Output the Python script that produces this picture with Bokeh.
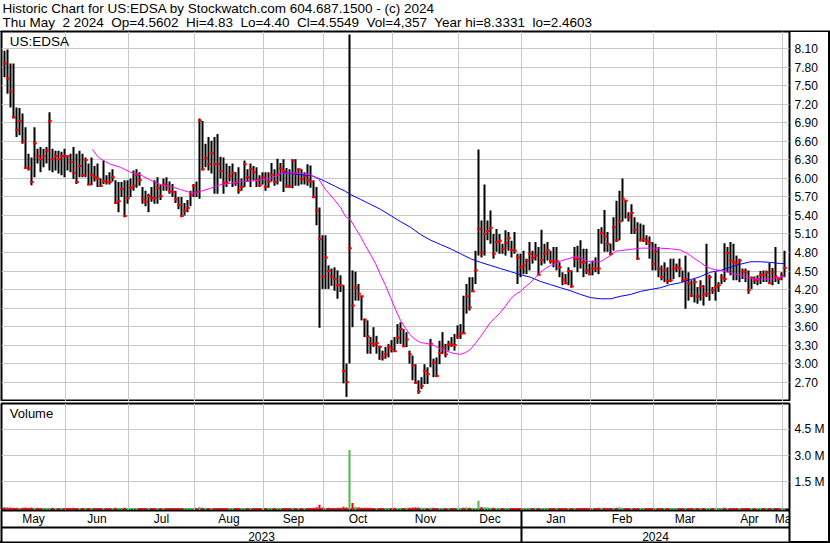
from bokeh.plotting import figure
from bokeh.layouts import column
from bokeh.models import Range1d, FixedTicker, Span, PrintfTickFormatter, Label
from bokeh.embed import file_html
from bokeh.resources import INLINE
from bokeh.core.properties import value

# ---------------- text ----------------
header_line1 = "Historic Chart for US:EDSA by Stockwatch.com 604.687.1500 - (c) 2024"
header_line2 = ("Thu May\u00a0 2 2024\u00a0 Op=4.5602\u00a0 Hi=4.83\u00a0 Lo=4.40\u00a0 "
                "Cl=4.5549\u00a0 Vol=4,357\u00a0 Year hi=8.3331\u00a0 lo=2.4603")
symbol_label = "US:EDSA"
volume_label = "Volume"
month_names = ["May", "Jun", "Jul", "Aug", "Sep", "Oct", "Nov", "Dec",
               "Jan", "Feb", "Mar", "Apr", "May"]
year_names = ["2023", "2024"]
price_ticks = [2.70, 3.00, 3.30, 3.60, 3.90, 4.20, 4.50, 4.80, 5.10, 5.40,
               5.70, 6.00, 6.30, 6.60, 6.90, 7.20, 7.50, 7.80, 8.10]
volume_ticks = [1.5, 3.0, 4.5]          # millions

# ---------------- daily bars: (high, low, close), one list per month ----------------
may23 = [(8.07,7.64,7.86),(8.09,7.37,7.62),(7.86,7.15,7.41),(7.86,6.97,6.99),(7.15,6.67,6.79),
         (7.14,6.70,6.93),(7.05,6.56,6.60),(6.83,6.16,6.17),(6.40,6.13,6.16),(6.34,5.89,5.94),
         (6.83,6.02,6.57),(6.48,6.24,6.36),(6.51,6.10,6.31),(6.48,6.18,6.36),(6.51,6.24,6.45),
         (7.07,6.13,6.93),(6.48,6.10,6.31),(6.45,6.13,6.36),(6.45,6.08,6.31),(6.43,6.05,6.36),
         (6.48,6.02,6.36)]
jun23 = [(6.37,6.13,6.36),(6.40,6.10,6.26),(6.51,5.99,6.09),(6.40,5.91,5.94),(6.45,6.02,6.20),
         (6.40,6.02,6.05),(6.34,6.02,6.30),(6.24,5.89,5.90),(6.34,5.89,6.06),(6.20,5.95,6.02),
         (6.24,5.86,6.00),(6.00,5.86,5.88),(6.29,5.91,5.96),(6.05,5.90,5.94),(6.10,5.90,5.94),
         (6.15,5.95,6.02),(5.97,5.59,5.60),(5.94,5.45,5.63),(5.94,5.70,5.83),(5.97,5.37,5.39),
         (5.97,5.59,5.68)]
jul23 = [(6.00,5.70,5.85),(6.13,5.80,5.88),(6.15,5.85,6.05),(6.10,5.88,5.97),(5.86,5.59,5.66),
         (5.80,5.55,5.62),(5.75,5.45,5.71),(5.86,5.62,5.68),(5.97,5.59,5.68),(6.02,5.59,5.84),
         (5.90,5.65,5.71),(6.00,5.80,5.90),(6.02,5.80,5.88),(5.95,5.75,5.79),(5.91,5.70,5.78),
         (5.80,5.60,5.66),(5.70,5.50,5.57),(5.70,5.37,5.39),(5.60,5.40,5.48),(5.65,5.45,5.52),
         (5.80,5.55,5.73),(5.91,5.70,5.88)]
aug23 = [(5.95,5.70,5.78),(6.97,5.67,6.94),(6.93,6.13,6.15),(6.56,6.18,6.33),(6.67,6.13,6.23),
         (6.61,6.08,6.41),(6.67,5.75,6.23),(6.72,5.75,6.23),(6.35,6.00,6.12),(6.34,5.75,5.93),
         (6.24,5.86,5.93),(6.20,5.95,6.04),(6.24,5.86,6.09),(6.10,5.88,5.93),(6.18,5.75,5.81),
         (6.00,5.80,5.86),(6.29,5.86,6.23),(6.15,5.95,6.02),(6.24,5.86,6.15),(6.20,5.97,6.10),
         (6.18,5.86,5.97),(6.05,5.86,5.89),(6.10,5.90,6.02)]
sep23 = [(6.10,5.80,5.86),(6.10,5.85,5.95),(6.25,5.95,6.06),(6.15,5.88,5.94),(6.32,5.90,6.06),
         (6.25,5.95,6.16),(6.31,5.78,6.12),(6.17,5.85,5.87),(6.15,5.85,5.87),(6.31,5.84,6.29),
         (6.31,5.88,6.08),(6.16,5.88,6.15),(6.15,5.90,5.99),(6.10,5.90,6.04),(6.23,5.88,5.97),
         (6.21,5.85,5.95),(5.97,5.68,5.70),(5.86,5.24,5.48),(5.53,3.58,5.02),(5.08,4.21,4.41)]
oct23 = [(5.08,4.21,4.72),(4.59,4.21,4.50),(4.54,4.26,4.41),(4.56,4.18,4.37),(4.51,4.05,4.27),
         (4.43,4.16,4.27),(4.27,2.68,2.88),(3.00,2.46,2.70),(8.33,3.00,4.87),(4.51,3.59,3.94),
         (4.49,4.02,4.23),(4.29,4.02,4.13),(4.10,3.70,4.09),(3.73,3.43,3.71),(3.70,3.16,3.44),
         (3.43,3.16,3.33),(3.59,3.27,3.31),(3.45,3.16,3.33),(3.29,3.06,3.27),(3.21,3.05,3.10),
         (3.27,3.08,3.15),(3.32,3.10,3.27),(3.38,3.18,3.24)]
nov23 = [(3.43,3.19,3.20),(3.64,3.32,3.42),(3.67,3.32,3.56),(3.56,3.27,3.28),(3.51,3.27,3.39),
         (3.21,3.00,3.15),(3.13,2.73,2.97),(2.99,2.67,2.69),(2.73,2.51,2.55),(2.78,2.59,2.64),
         (2.99,2.67,2.88),(2.94,2.67,2.83),(3.40,2.94,3.32),(3.08,2.78,3.02),(3.10,2.78,2.80),
         (3.37,2.99,3.17),(3.51,3.16,3.26),(3.32,3.10,3.15),(3.37,3.21,3.31),(3.43,3.27,3.31),
         (3.48,3.21,3.30),(3.62,3.40,3.44)]
dec23 = [(3.64,3.40,3.49),(4.10,3.48,3.49),(4.29,3.81,4.09),(4.40,3.86,3.91),(4.40,4.16,4.17),
         (4.83,4.29,4.51),(6.47,4.75,5.18),(5.32,4.72,4.80),(5.90,4.75,5.10),(5.32,5.00,5.15),
         (5.48,4.94,5.20),(5.10,4.70,4.78),(5.18,4.81,4.97),(5.10,4.78,4.99),(4.94,4.78,4.86),
         (5.16,4.75,4.95),(5.13,4.83,5.03),(4.99,4.72,4.84),(5.13,4.78,4.83),(4.78,4.29,4.72),
         (4.78,4.40,4.56)]
jan24 = [(4.83,4.45,4.59),(4.70,4.45,4.67),(4.97,4.51,4.78),(4.83,4.62,4.71),(4.97,4.67,4.75),
         (4.89,4.43,4.44),(5.17,4.59,4.68),(4.94,4.62,4.78),(4.97,4.67,4.84),(4.83,4.62,4.66),
         (4.89,4.56,4.65),(4.89,4.51,4.66),(4.64,4.40,4.56),(4.48,4.27,4.36),(4.45,4.29,4.30),
         (4.56,4.27,4.50),(4.51,4.23,4.25),(4.89,4.56,4.70),(4.91,4.48,4.70),(5.00,4.54,4.64),
         (4.86,4.40,4.64),(4.86,4.45,4.51),(4.62,4.43,4.45)]
feb24 = [(4.67,4.43,4.54),(4.72,4.48,4.54),(5.18,4.45,4.54),(5.21,4.94,5.11),(5.49,4.81,5.06),
         (5.13,4.81,4.94),(4.94,4.75,4.78),(5.37,4.83,5.21),(5.64,4.97,5.00),(5.80,5.00,5.30),
         (6.00,5.30,5.67),(5.64,5.35,5.64),(5.45,5.30,5.37),(5.58,5.10,5.44),(5.37,5.10,5.17),
         (5.29,4.68,4.70),(5.27,4.98,5.00),(5.25,4.97,5.01),(5.08,4.92,4.99),(5.06,4.70,4.95),
         (4.97,4.51,4.62)]
mar24 = [(4.94,4.51,4.81),(4.89,4.40,4.54),(4.59,4.35,4.40),(4.64,4.32,4.51),(4.56,4.29,4.34),
         (4.70,4.32,4.35),(4.70,4.37,4.54),(4.62,4.48,4.56),(4.70,4.40,4.54),(4.51,4.32,4.35),
         (4.75,3.89,4.37),(4.48,4.02,4.30),(4.35,4.08,4.10),(4.37,3.99,4.32),(4.24,3.97,4.09),
         (4.35,4.02,4.25),(4.27,3.94,4.12),(4.94,4.08,4.13),(4.44,4.02,4.40),(4.24,4.13,4.19),
         (4.48,4.02,4.24)]
apr24 = [(4.32,4.16,4.27),(4.45,4.29,4.39),(4.95,4.32,4.37),(4.89,4.48,4.79),(4.97,4.43,4.67),
         (4.94,4.35,4.64),(4.75,4.35,4.62),(4.70,4.32,4.67),(4.54,4.37,4.49),(4.54,4.32,4.48),
         (4.51,4.13,4.19),(4.41,4.21,4.39),(4.41,4.29,4.35),(4.43,4.27,4.36),(4.50,4.29,4.44),
         (4.51,4.32,4.43),(4.51,4.32,4.48),(4.63,4.29,4.30),(4.55,4.27,4.48),(4.89,4.32,4.41),
         (4.40,4.29,4.37),(4.48,4.35,4.42)]
may24 = [(4.83,4.40,4.55)]

# ---------------- daily volume, thousands of shares ----------------
vol_may23 = [60,45,50,38,42,35,40,55,30,48,35,30,28,33,25,40,30,28,26,30,25]
vol_jun23 = [28,25,30,22,26,24,30,22,25,20,24,22,26,20,18,22,30,28,22,35,25]
vol_jul23 = [24,20,22,18,26,22,20,24,18,22,20,24,18,22,20,24,22,28,20,24,22,20]
vol_aug23 = [22,80,40,30,26,28,24,26,22,20,24,22,20,24,22,26,22,20,24,22,20,22,24]
vol_sep23 = [22,20,24,22,26,24,22,20,24,22,26,22,20,24,22,26,40,60,200,45]
vol_oct23 = [40,30,28,25,30,40,90,50,3320,310,90,60,40,35,30,30,25,28,26,24,22,24,26]
vol_nov23 = [30,28,26,25,30,35,50,60,45,35,30,28,40,30,28,26,24,22,26,24,22,26]
vol_dec23 = [30,40,60,35,30,28,430,80,70,60,40,30,28,26,24,22,24,22,20,24,22]
vol_jan24 = [22,20,24,22,26,24,22,20,24,22,20,18,22,20,24,22,20,18,24,22,20,22,24]
vol_feb24 = [22,20,40,35,30,26,28,30,40,70,30,26,24,22,20,24,22,20,22,24,20]
vol_mar24 = [22,20,24,22,20,24,22,20,18,22,28,24,22,20,24,22,20,22,30,24,22]
vol_apr24 = [20,22,30,26,24,22,20,24,22,20,22,24,20,22,20,24,22,20,22,24,20,22]
vol_may24 = [4]

# ---------------- moving averages (bar number, price) ----------------
ma_short_bar = [29.3,31.0,32.0,33.7,35.3,38.7,42.0,45.3,48.7,52.0,55.3,58.7,62.0,63.7,65.3,68.7,
                72.0,75.3,78.7,82.0,85.3,88.7,92.0,95.3,98.7,102.0,104.7,107.0,109.7,112.0,113.7,
                115.3,117.0,118.7,120.3,122.0,123.7,125.3,127.0,128.7,130.3,132.0,133.7,135.3,
                137.0,138.7,140.3,142.0,143.7,145.3,147.0,148.7,150.3,152.0,153.7,155.3,157.0,
                158.7,160.3,162.0,163.7,165.3,167.0,168.7,170.3,172.0,173.7,175.3,177.0,178.7,
                180.3,182.0,183.7,185.3,188.7,190.3,192.0,193.7,195.3,198.7,200.3,202.0,203.7,
                205.3,208.7,212.0,215.3,218.7,222.0,225.3,227.0,228.7,230.3,232.0,233.7,235.3,
                237.0,238.7,242.0,245.3,248.7,252.0,255.3,258.7,260.3]
ma_short_val = [6.47,6.36,6.32,6.27,6.23,6.18,6.10,6.06,5.97,5.90,5.87,5.82,5.77,5.76,5.79,5.84,
                5.90,5.92,5.95,5.95,5.98,6.00,6.08,6.09,6.08,6.06,5.99,5.82,5.67,5.53,5.38,
                5.33,5.19,5.06,4.91,4.77,4.62,4.44,4.27,4.07,3.88,3.70,3.57,3.46,
                3.39,3.34,3.33,3.31,3.28,3.24,3.21,3.18,3.16,3.15,3.18,3.23,3.33,
                3.44,3.55,3.67,3.75,3.83,3.93,4.05,4.12,4.17,4.25,4.31,4.40,4.48,
                4.54,4.59,4.62,4.66,4.71,4.73,4.71,4.67,4.65,4.65,4.70,4.75,4.82,
                4.83,4.85,4.87,4.87,4.87,4.86,4.84,4.80,4.75,4.69,4.64,4.58,4.54,
                4.52,4.51,4.47,4.43,4.38,4.37,4.37,4.40,4.42]
ma_long_bar = [92.7,95.3,98.7,102.0,104.7,107.0,110.3,113.7,115.3,118.7,122.0,125.3,128.7,132.0,
               135.3,138.7,142.0,145.3,148.7,152.0,155.3,158.7,162.0,165.3,168.7,172.0,175.3,
               178.7,182.0,185.3,188.7,192.0,195.3,198.7,202.0,205.3,208.7,212.0,215.3,218.7,
               222.0,225.3,228.7,232.0,235.3,238.7,242.0,245.3,248.7,252.0,255.3,258.7,260.3]
ma_long_val = [6.10,6.08,6.06,6.05,6.00,5.95,5.87,5.79,5.74,5.66,5.58,5.50,5.40,5.30,
               5.21,5.09,5.00,4.93,4.86,4.78,4.70,4.64,4.59,4.54,4.49,4.44,4.40,
               4.33,4.28,4.23,4.18,4.12,4.07,4.05,4.05,4.09,4.12,4.17,4.20,4.23,
               4.28,4.31,4.36,4.41,4.48,4.51,4.56,4.61,4.65,4.65,4.64,4.62,4.62]

# ---------------- assemble ----------------
months = [may23, jun23, jul23, aug23, sep23, oct23, nov23, dec23, jan24, feb24, mar24, apr24, may24]
vols = [vol_may23, vol_jun23, vol_jul23, vol_aug23, vol_sep23, vol_oct23, vol_nov23, vol_dec23,
        vol_jan24, vol_feb24, vol_mar24, vol_apr24, vol_may24]
bars = [b for m in months for b in m]
hi = [b[0] for b in bars]
lo = [b[1] for b in bars]
cl = [b[2] for b in bars]
vol_m = [v / 1000.0 for m in vols for v in m]
n = len(bars)
xs = list(range(n))

first_bar = []
acc = 0
for m in months[:-1]:
    acc += len(m)
    first_bar.append(acc)
month_edges = [f - 0.67 for f in first_bar]

X0, X1 = -1.0, n + 0.67
edges_all = [X0] + month_edges + [X1]
month_centers = [(edges_all[k] + edges_all[k + 1]) / 2 for k in range(len(month_names))]
jan_edge = month_edges[7]
year_centers = [(X0 + jan_edge) / 2, (jan_edge + X1) / 2]

up_color, down_color = "#4cbb4c", "#ff0000"
vol_colors = [down_color] + [up_color if cl[i] > cl[i - 1] else down_color for i in range(1, n)]

# ---------------- layout constants ----------------
W = 830
RB = 41
FONT = "Liberation Sans"
GRID = "#c8c8c8"
P_RANGE = (2.386, 8.380)
V_RANGE = (-0.12, 5.96)

xr = Range1d(X0, X1)


def make_fig(h, yr, top, bottom, yloc):
    p = figure(width=W, height=h, x_range=xr, y_range=yr, output_backend="svg",
               toolbar_location=None, x_axis_location=None, y_axis_location=yloc,
               min_border_left=1, min_border_right=RB, min_border_top=top,
               min_border_bottom=bottom, background_fill_color="white",
               border_fill_color=None, outline_line_color="black", outline_line_width=2)
    return p


def style_axis(ax, ticks, fmt):
    ax.ticker = FixedTicker(ticks=ticks)
    ax.formatter = PrintfTickFormatter(format=fmt)
    ax.axis_line_color = None
    ax.major_tick_line_color = None
    ax.minor_tick_line_color = None
    ax.major_tick_out = 0
    ax.major_tick_in = 0
    ax.major_label_standoff = 5
    ax.major_label_text_font = FONT
    ax.major_label_text_font_size = "12px"
    ax.major_label_text_color = "black"


# header
hdr = figure(width=W, height=31, x_range=Range1d(0, W), y_range=Range1d(0, 31),
             output_backend="svg", toolbar_location=None, x_axis_location=None,
             y_axis_location=None, min_border_left=0, min_border_right=0, min_border_top=0,
             min_border_bottom=0, outline_line_color=None, background_fill_color="white",
             border_fill_color="white")
hdr.grid.visible = False
hdr.text(x=[2, 2], y=[23.0, 9.0], text=[header_line1, header_line2], text_font=value(FONT),
         text_font_size=value("13.5px"), text_color="black", text_align="left",
         text_baseline="alphabetic")
hdr.add_layout(Span(location=0.5, dimension="width", line_color="black", line_width=1))

# price panel
pp = make_fig(370, Range1d(*P_RANGE), 0, 0, "right")
style_axis(pp.yaxis[0], price_ticks, "%.2f")
pp.ygrid.ticker = FixedTicker(ticks=price_ticks)
pp.xgrid.ticker = FixedTicker(ticks=month_edges)
pp.grid.grid_line_color = GRID
pp.grid.grid_line_width = 1
pp.segment(x0=xs, y0=lo, x1=xs, y1=hi, line_color="black", line_width=2)
pp.rect(x=[x + 0.15 for x in xs], y=cl, width=1.25, height=2, height_units="screen",
        fill_color="#ff0000", line_color=None)
pp.line(ma_long_bar, ma_long_val, line_color="#0000ff", line_width=1)
pp.line(ma_short_bar, ma_short_val, line_color="#ff00ff", line_width=1)
pp.text(x=[1.77], y=[8.216], text=[symbol_label], text_font=value(FONT),
        text_font_size=value("13.5px"), text_color="black", text_align="left",
        text_baseline="alphabetic")

# volume panel
vp = make_fig(109, Range1d(*V_RANGE), 2, 0, "right")
style_axis(vp.yaxis[0], volume_ticks, "%.1f M")
vp.ygrid.ticker = FixedTicker(ticks=volume_ticks)
vp.xgrid.ticker = FixedTicker(ticks=month_edges)
vp.grid.grid_line_color = GRID
vp.grid.grid_line_width = 1
vp.vbar(x=xs, width=0.67, top=vol_m, bottom=V_RANGE[0], fill_color=vol_colors, line_color=None)
vp.text(x=[1.77], y=[5.39], text=[volume_label], text_font=value(FONT),
        text_font_size=value("13px"), text_color="black", text_align="left",
        text_baseline="alphabetic")

# month / year axis rows
ap = make_fig(33, Range1d(0, 32), 0, 1, None)
ap.grid.visible = False
ap.add_layout(Span(location=15.0, dimension="width", line_color="black", line_width=2))
ap.add_layout(Span(location=jan_edge, dimension="height", line_color="black", line_width=2))
ap.text(x=month_centers[:-1], y=[23.8] * (len(month_names) - 1), text=month_names[:-1],
        text_font=value(FONT), text_font_size=value("12px"), text_color="black",
        text_align="center", text_baseline="alphabetic")
# the last month name runs past the frame edge in the original, so it is an unclipped label
ap.add_layout(Label(x=month_centers[-1], y=23.8, text=month_names[-1], text_font=FONT,
                    text_font_size="12px", text_color="black", text_align="center",
                    text_baseline="alphabetic"))
ap.text(x=year_centers, y=[6.3, 6.3], text=year_names, text_font=value(FONT),
        text_font_size=value("12px"), text_color="black", text_align="center",
        text_baseline="alphabetic")

# outer frame: right edge, bottom edge and top edge over the label column
body = column(pp, vp, ap, spacing=0,
              styles={"box-shadow": "inset -2px -2px 0 0 #000000, inset 0 1px 0 0 #000000",
                      "background-color": "#ffffff"})
layout = column(hdr, body, spacing=0)
open("out.html", "w").write(file_html(layout, INLINE))
